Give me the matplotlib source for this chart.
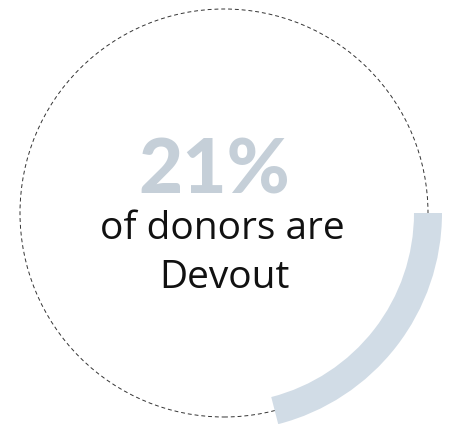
import matplotlib.pyplot as plt
from matplotlib.patches import Circle, Wedge

# share of donors in the segment
share = 21
segment = "Devout"
headline = f"{share}%"
caption = ["of donors are", segment]

# canvas in pixels, y measured from the bottom
W, H = 451, 424
cx, cy = 224, H - 213
r_ring = 204
ring_width = 28

fig = plt.figure(figsize=(W / 100, H / 100), dpi=100)
ax = fig.add_axes([0, 0, 1, 1])
ax.set_xlim(0, W)
ax.set_ylim(0, H)
ax.set_aspect("equal")
ax.axis("off")

# thin dashed outline of the full circle
ax.add_patch(Circle((cx, cy), r_ring, fill=False, edgecolor="#333333",
                    linewidth=0.7, linestyle=(0, (4, 3))))

# thick arc, clockwise from 3 o'clock
sweep = share / 100 * 360
ax.add_patch(Wedge((cx, cy), r_ring + ring_width / 2, -sweep, 0,
                   width=ring_width, facecolor="#d1dce6", edgecolor="none"))

ax.text(214, H - 193, headline, ha="center", va="baseline",
        fontsize=55, fontweight="black", family="Lato", color="#c5cfd8")
ax.text(222, H - 239, caption[0], ha="center", va="baseline",
        fontsize=28, family="Open Sans", color="#111111")
ax.text(224, H - 288, caption[1], ha="center", va="baseline",
        fontsize=28, family="Open Sans", color="#111111")

fig.savefig("out.png", dpi=100)
